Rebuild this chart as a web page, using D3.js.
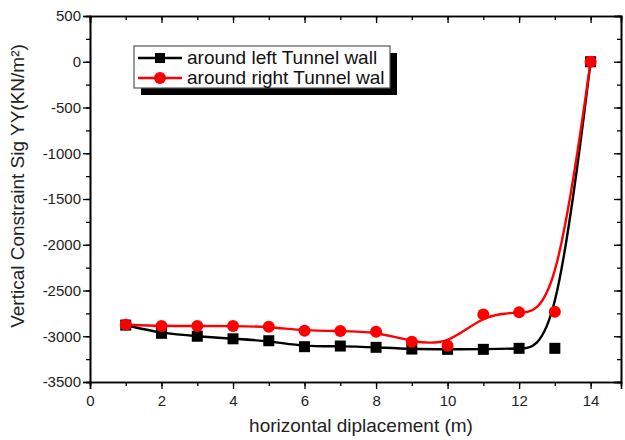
<!DOCTYPE html>
<html>
<head>
<meta charset="utf-8">
<script src="https://cdn.jsdelivr.net/npm/d3@7/dist/d3.min.js"></script>
<style>
  html, body { margin: 0; padding: 0; background: #fff; }
  svg { display: block; font-family: "Liberation Sans", Arial, sans-serif; }
</style>
</head>
<body>
<svg id="chart" width="625" height="440"></svg>
<script>
// Measurement positions along the section (m)
const positions = [1, 2, 3, 4, 5, 6, 7, 8, 9, 10, 11, 12, 13, 14];
// Vertical stress Sig YY (kN/m²) around each tunnel wall
const leftWall  = [-2878, -2968, -3000, -3028, -3049, -3114, -3107, -3121, -3140, -3143, -3143, -3132, -3132, 0];
const rightWall = [-2875, -2888, -2888, -2888, -2896, -2940, -2943, -2950, -3060, -3103, -2761, -2739, -2732, 0];
const seriesNames = ["around left Tunnel wall", "around right Tunnel wal"];
const xTicks = [0, 2, 4, 6, 8, 10, 12, 14];
const yTicks = [500, 0, -500, -1000, -1500, -2000, -2500, -3000, -3500];

const svg = d3.select("#chart");
const m = { left: 90, right: 4, top: 16, bottom: 58 };
const W = 625, H = 440;

const x = d3.scaleLinear().domain([0, 14.85]).range([m.left, W - m.right]);
const y = d3.scaleLinear().domain([-3500, 500]).range([H - m.bottom, m.top]);

const x0 = x.range()[0], x1 = x.range()[1];
const y0 = y.range()[0], y1 = y.range()[1];

// Minor tick values
const xMinor = d3.range(0, 15, 1);
const yMinor = d3.range(-3500, 501, 250);

// Plain hyphen-minus labels
const fmt = d => String(d);

// Bottom axis: major ticks outward with labels, minor ticks outward
const gB = svg.append("g").attr("transform", `translate(0,${y0})`);
gB.call(d3.axisBottom(x).tickValues(xMinor).tickSize(4).tickFormat(""));
gB.call(g => g.append("g").call(d3.axisBottom(x).tickValues(xTicks).tickSize(7).tickFormat(fmt)));

// Left axis
const gL = svg.append("g").attr("transform", `translate(${x0},0)`);
gL.call(d3.axisLeft(y).tickValues(yMinor).tickSize(4).tickFormat(""));
gL.call(g => g.append("g").call(d3.axisLeft(y).tickValues(yTicks).tickSize(7).tickFormat(fmt)));

// Top axis: inward ticks, no labels
const gT = svg.append("g").attr("transform", `translate(0,${y1})`);
gT.call(d3.axisTop(x).tickValues(xMinor).tickSize(-4).tickFormat(""));
gT.call(g => g.append("g").call(d3.axisTop(x).tickValues(xTicks).tickSize(-7).tickFormat("")));

// Right axis: inward ticks, no labels
const gR = svg.append("g").attr("transform", `translate(${x1},0)`);
gR.call(d3.axisRight(y).tickValues(yMinor).tickSize(-4).tickFormat(""));
gR.call(g => g.append("g").call(d3.axisRight(y).tickValues(yTicks).tickSize(-7).tickFormat("")));

svg.selectAll(".domain").attr("stroke", "#000").attr("stroke-width", 1.6);
svg.selectAll(".tick line").attr("stroke", "#000").attr("stroke-width", 1.3);
svg.selectAll(".tick text")
  .attr("font-size", 15)
  .attr("font-family", "Liberation Sans, Arial, sans-serif")
  .attr("fill", "#222");
gB.selectAll(".tick text").attr("dy", "0.9em");
gL.selectAll(".tick text").attr("x", -9);

// Axis titles
svg.append("text")
  .attr("x", 361)
  .attr("y", 432)
  .attr("text-anchor", "middle")
  .attr("font-size", 19)
  .attr("fill", "#222")
  .text("horizontal diplacement (m)");

svg.append("text")
  .attr("transform", `translate(24,186) rotate(-90)`)
  .attr("text-anchor", "middle")
  .attr("font-size", 19)
  .attr("fill", "#222")
  .text("Vertical Constraint Sig YY(KN/m²)");

// Smoothed series curves
const line = d3.line().x((d, i) => x(positions[i])).y(d => y(d)).curve(d3.curveBasis);

const plot = svg.append("g");

plot.append("path")
  .datum(leftWall)
  .attr("d", line)
  .attr("fill", "none")
  .attr("stroke", "#000")
  .attr("stroke-width", 2.4);

plot.selectAll("rect.sq")
  .data(leftWall)
  .enter().append("rect")
  .attr("class", "sq")
  .attr("x", (d, i) => x(positions[i]) - 5.5)
  .attr("y", d => y(d) - 5.5)
  .attr("width", 11)
  .attr("height", 11)
  .attr("fill", "#000");

plot.append("path")
  .datum(rightWall)
  .attr("d", line)
  .attr("fill", "none")
  .attr("stroke", "#ff0000")
  .attr("stroke-width", 2.4);

plot.selectAll("circle.dot")
  .data(rightWall)
  .enter().append("circle")
  .attr("class", "dot")
  .attr("cx", (d, i) => x(positions[i]))
  .attr("cy", d => y(d))
  .attr("r", 6)
  .attr("fill", "#ff0000");

// Legend with drop shadow
const lg = svg.append("g").attr("transform", "translate(134,46)");
const lw = 256, lh = 42;
lg.append("rect").attr("x", 7).attr("y", 7).attr("width", lw).attr("height", lh).attr("fill", "#000");
lg.append("rect").attr("x", 0).attr("y", 0).attr("width", lw).attr("height", lh)
  .attr("fill", "#fff").attr("stroke", "#555").attr("stroke-width", 1.2);

seriesNames.forEach((name, i) => {
  const ry = 12 + i * 20;
  const color = i === 0 ? "#000" : "#ff0000";
  lg.append("line").attr("x1", 4).attr("x2", 48).attr("y1", ry).attr("y2", ry)
    .attr("stroke", color).attr("stroke-width", 2.4);
  if (i === 0) {
    lg.append("rect").attr("x", 26 - 5).attr("y", ry - 5).attr("width", 10).attr("height", 10).attr("fill", "#000");
  } else {
    lg.append("circle").attr("cx", 26).attr("cy", ry).attr("r", 6).attr("fill", "#ff0000");
  }
  lg.append("text").attr("x", 53).attr("y", ry + 6)
    .attr("font-size", 19).attr("fill", "#111").text(name);
});
</script>
</body>
</html>
